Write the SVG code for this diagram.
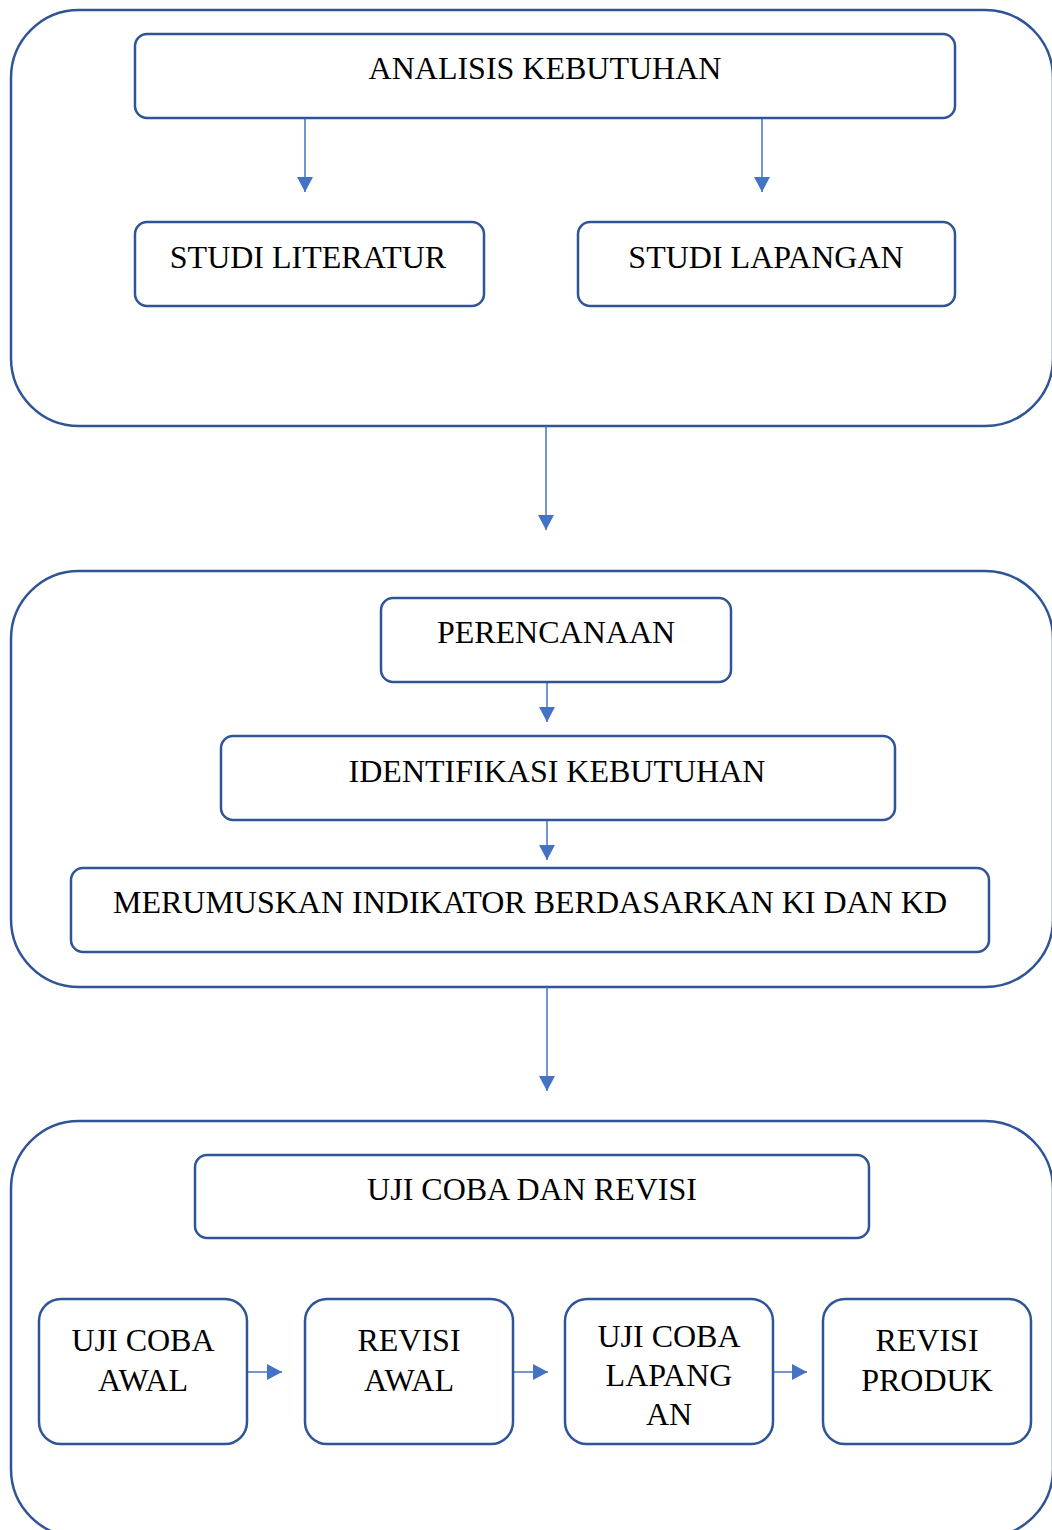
<svg xmlns="http://www.w3.org/2000/svg" width="1052" height="1530" viewBox="0 0 1052 1530">
<style>
.c{fill:none;stroke:#2F5597;stroke-width:2.5}
.b{fill:#fff;stroke:#2F5597;stroke-width:2.5}
.t{font-family:"Liberation Serif","Times New Roman",serif;font-size:32px;fill:#000;text-anchor:middle}
.a{stroke:#4472C4;stroke-width:1.5;fill:none;marker-end:url(#ah)}
</style>
<defs>
<marker id="ah" markerUnits="userSpaceOnUse" markerWidth="16" markerHeight="16" viewBox="0 0 16 16" refX="15" refY="8" orient="auto">
<path d="M0,0 L15,8 L0,16 Z" fill="#4472C4"/>
</marker>
</defs>
<g id="stage1"><rect class="c" x="11" y="10" width="1042" height="416" rx="68" ry="68"/></g>
<g id="stage2"><rect class="c" x="11" y="571" width="1042" height="416" rx="68" ry="68"/></g>
<g id="stage3"><rect class="c" x="11" y="1121" width="1042" height="416" rx="68" ry="68"/></g>
<g id="connectors">
<line class="a" x1="305" y1="118" x2="305" y2="192"/>
<line class="a" x1="762" y1="118" x2="762" y2="192"/>
<line class="a" x1="546" y1="426" x2="546" y2="530"/>
<line class="a" x1="547" y1="682" x2="547" y2="722"/>
<line class="a" x1="547" y1="820" x2="547" y2="860"/>
<line class="a" x1="547" y1="987" x2="547" y2="1091"/>
<line class="a" x1="247" y1="1372" x2="282" y2="1372"/>
<line class="a" x1="513" y1="1372" x2="548" y2="1372"/>
<line class="a" x1="773" y1="1372" x2="807" y2="1372"/>
</g>
<g id="analisis"><rect class="b" x="135" y="34" width="820" height="84" rx="12"/><text class="t" x="545" y="79">ANALISIS KEBUTUHAN</text></g>
<g id="literatur"><rect class="b" x="135" y="222" width="349" height="84" rx="12"/><text class="t" x="308" y="268">STUDI LITERATUR</text></g>
<g id="lapangan"><rect class="b" x="578" y="222" width="377" height="84" rx="12"/><text class="t" x="766" y="268">STUDI LAPANGAN</text></g>
<g id="perencanaan"><rect class="b" x="381" y="598" width="350" height="84" rx="12"/><text class="t" x="556" y="643">PERENCANAAN</text></g>
<g id="identifikasi"><rect class="b" x="221" y="736" width="674" height="84" rx="12"/><text class="t" x="557" y="782">IDENTIFIKASI KEBUTUHAN</text></g>
<g id="merumuskan"><rect class="b" x="71" y="868" width="918" height="84" rx="12"/><text class="t" x="530" y="913">MERUMUSKAN INDIKATOR BERDASARKAN KI DAN KD</text></g>
<g id="ujicobarevisi"><rect class="b" x="195" y="1155" width="674" height="83" rx="12"/><text class="t" x="532" y="1200">UJI COBA DAN REVISI</text></g>
<g id="ujicobaawal"><rect class="b" x="39" y="1299" width="208" height="145" rx="22"/><text class="t" x="143" y="1351">UJI COBA</text><text class="t" x="143" y="1391">AWAL</text></g>
<g id="revisiawal"><rect class="b" x="305" y="1299" width="208" height="145" rx="22"/><text class="t" x="409" y="1351">REVISI</text><text class="t" x="409" y="1391">AWAL</text></g>
<g id="ujicobalapangan"><rect class="b" x="565" y="1299" width="208" height="145" rx="22"/><text class="t" x="669" y="1347">UJI COBA</text><text class="t" x="669" y="1386">LAPANG</text><text class="t" x="669" y="1425">AN</text></g>
<g id="revisiproduk"><rect class="b" x="823" y="1299" width="208" height="145" rx="22"/><text class="t" x="927" y="1351">REVISI</text><text class="t" x="927" y="1391">PRODUK</text></g>
</svg>
